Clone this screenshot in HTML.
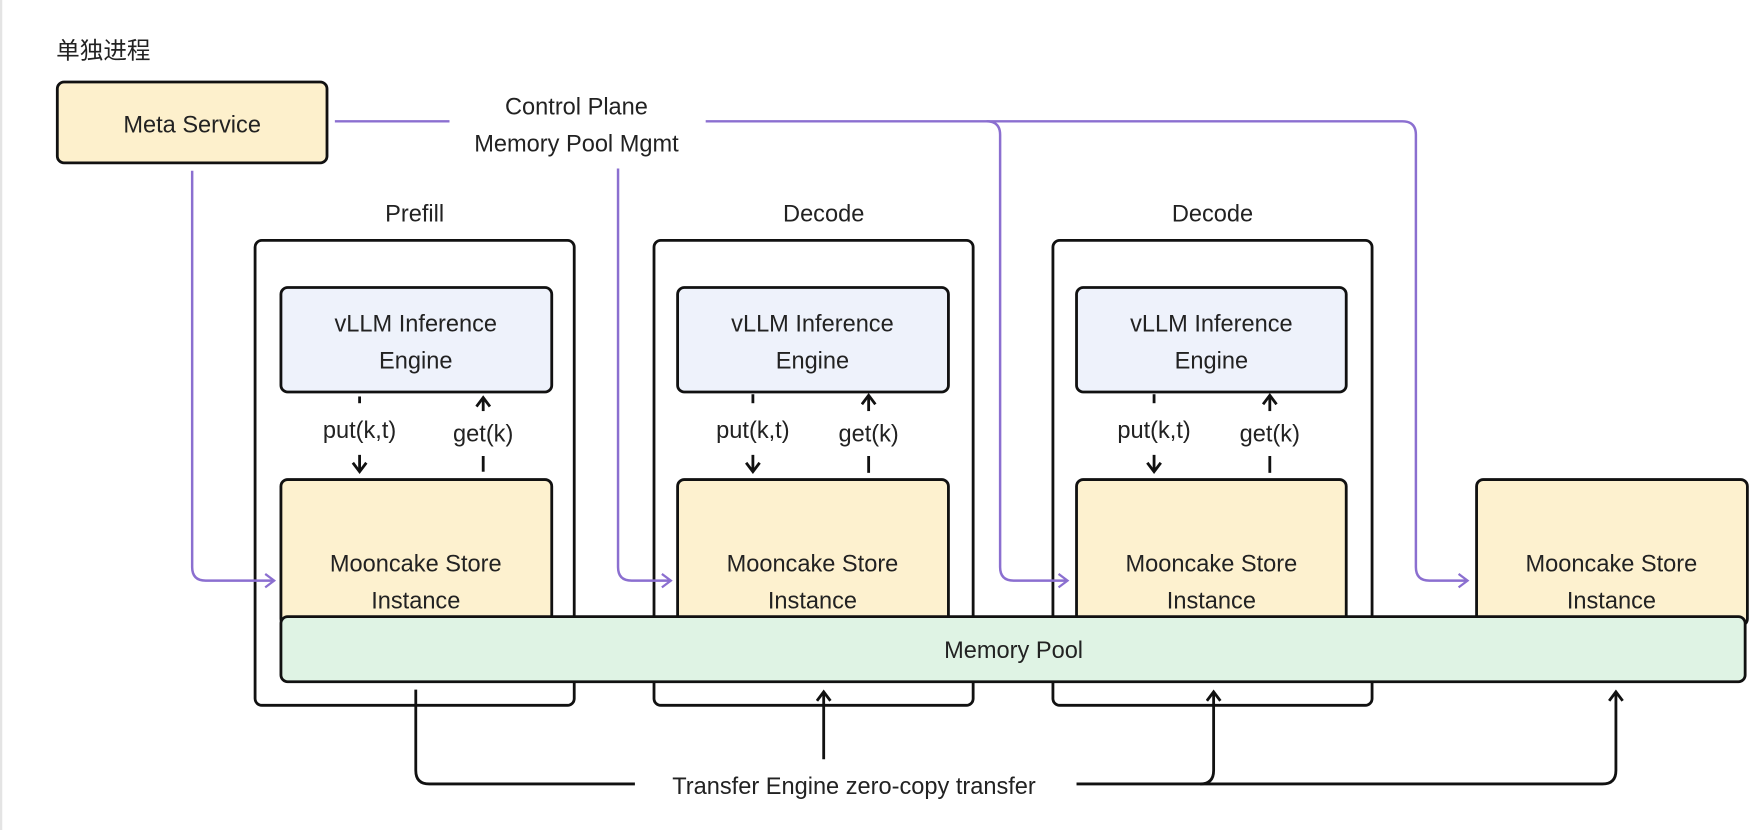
<!DOCTYPE html>
<html><head><meta charset="utf-8"><style>
html,body{margin:0;padding:0;background:#fff;width:1762px;height:830px;overflow:hidden}
svg{display:block}
text{font-family:"Liberation Sans","Noto Sans CJK SC",sans-serif;fill:#222;font-size:21px}
</style></head><body>
<svg width="1762" height="830" viewBox="0 0 1568 739" preserveAspectRatio="none">
<defs>
<marker id="pa" markerWidth="14" markerHeight="14" refX="11" refY="7" orient="auto" markerUnits="userSpaceOnUse"><path d="M3,1 L11,7 L3,13" fill="none" stroke="#8b6fd0" stroke-width="2"/></marker>
<marker id="ba" markerWidth="14" markerHeight="14" refX="11" refY="7" orient="auto" markerUnits="userSpaceOnUse"><path d="M3,1 L11,7 L3,13" fill="none" stroke="#111" stroke-width="2.5"/></marker>
</defs>
<line x1="1" y1="0" x2="1" y2="739" stroke="#e4e4e4" stroke-width="2"/>
<text x="50" y="52">单独进程</text>
<rect x="51" y="73" width="240" height="72" rx="6" fill="#fdf0cc" stroke="#111" stroke-width="2.5"/>
<text x="171" y="118" text-anchor="middle">Meta Service</text>
<text x="513" y="102" text-anchor="middle">Control Plane</text>
<text x="513" y="135" text-anchor="middle">Memory Pool Mgmt</text>
<g stroke="#111" stroke-width="2.5">
<rect x="227" y="214" width="284" height="414" rx="6" fill="#fff"/>
<rect x="582" y="214" width="284" height="414" rx="6" fill="#fff"/>
<rect x="937" y="214" width="284" height="414" rx="6" fill="#fff"/>
</g>
<g fill="none" stroke="#8b6fd0" stroke-width="2.2">
<path d="M298,108 H400"/>
<path d="M628,108 H878 Q890,108 890,120 V505 Q890,517 902,517 H950" marker-end="url(#pa)"/>
<path d="M878,108 H1248 Q1260,108 1260,120 V505 Q1260,517 1272,517 H1306" marker-end="url(#pa)"/>
<path d="M171,152 V505 Q171,517 183,517 H244" marker-end="url(#pa)"/>
<path d="M550,150 V505 Q550,517 562,517 H597" marker-end="url(#pa)"/>
</g>
<text x="369" y="197" text-anchor="middle">Prefill</text>
<text x="733" y="197" text-anchor="middle">Decode</text>
<text x="1079" y="197" text-anchor="middle">Decode</text>
<g stroke="#111" stroke-width="2.5">
<rect x="250" y="256" width="241" height="93" rx="6" fill="#eef2fb"/>
<rect x="603" y="256" width="241" height="93" rx="6" fill="#eef2fb"/>
<rect x="958" y="256" width="240" height="93" rx="6" fill="#eef2fb"/>
<rect x="250" y="427" width="241" height="130" rx="6" fill="#fdf1cf"/>
<rect x="603" y="427" width="241" height="130" rx="6" fill="#fdf1cf"/>
<rect x="958" y="427" width="240" height="130" rx="6" fill="#fdf1cf"/>
<rect x="1314" y="427" width="241" height="130" rx="6" fill="#fdf1cf"/>
</g>
<g text-anchor="middle">
<text x="370" y="295">vLLM Inference</text><text x="370" y="328">Engine</text>
<text x="723" y="295">vLLM Inference</text><text x="723" y="328">Engine</text>
<text x="1078" y="295">vLLM Inference</text><text x="1078" y="328">Engine</text>
<text x="370" y="509">Mooncake Store</text><text x="370" y="542">Instance</text>
<text x="723" y="509">Mooncake Store</text><text x="723" y="542">Instance</text>
<text x="1078" y="509">Mooncake Store</text><text x="1078" y="542">Instance</text>
<text x="1434" y="509">Mooncake Store</text><text x="1434" y="542">Instance</text>
</g>
<rect x="250" y="549" width="1303" height="58" rx="6" fill="#dff3e4" stroke="#111" stroke-width="2.5"/>
<text x="902" y="586" text-anchor="middle">Memory Pool</text>
<g font-size="20" text-anchor="middle">
<text x="320" y="390">put(k,t)</text><text x="430" y="393">get(k)</text>
<text x="670" y="390">put(k,t)</text><text x="773" y="393">get(k)</text>
<text x="1027" y="390">put(k,t)</text><text x="1130" y="393">get(k)</text>
</g>
<g stroke="#111" stroke-width="2.5" fill="none">
<path d="M320,353 V359"/><path d="M320,405 V420" marker-end="url(#ba)"/>
<path d="M430,406 V420"/><path d="M430,366 V354" marker-end="url(#ba)"/>
<path d="M670,351 V359"/><path d="M670,405 V420" marker-end="url(#ba)"/>
<path d="M773,406 V421"/><path d="M773,366 V352" marker-end="url(#ba)"/>
<path d="M1027,351 V359"/><path d="M1027,405 V420" marker-end="url(#ba)"/>
<path d="M1130,406 V421"/><path d="M1130,366 V352" marker-end="url(#ba)"/>
<path d="M370,614 V686 Q370,698 382,698 H565"/>
<path d="M733,676 V616" marker-end="url(#ba)"/>
<path d="M958,698 H1426 Q1438,698 1438,686 V616" marker-end="url(#ba)"/>
<path d="M1068,698 Q1080,698 1080,686 V616" marker-end="url(#ba)"/>
</g>
<text x="760" y="707" text-anchor="middle">Transfer Engine  zero-copy transfer</text>
</svg>
</body></html>
